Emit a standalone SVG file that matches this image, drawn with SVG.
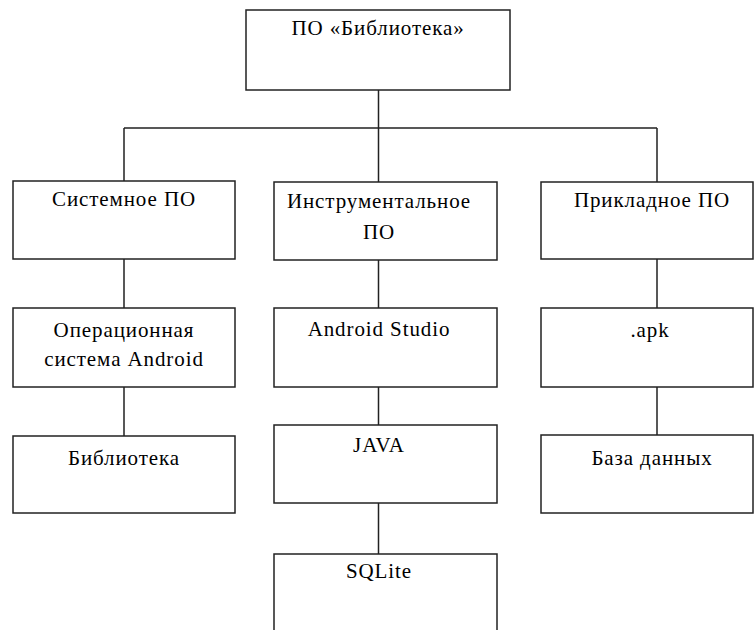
<svg xmlns="http://www.w3.org/2000/svg" width="754" height="630" viewBox="0 0 754 630">
<style>
.box{fill:#fff;stroke:#222;stroke-width:1.5}
.ln{stroke:#222;stroke-width:1.5;fill:none}
text{font-family:'Liberation Serif','Times New Roman',serif;font-size:21px;letter-spacing:0.9px;fill:#000;text-anchor:middle}
</style>
<rect width="754" height="630" fill="#fff"/>
<g id="connectors">
<path class="ln" d="M378.5 90V128M124 128H657M124 128V181M378.5 128V182M657 128V182"/>
<path class="ln" d="M124 259V308M124 387V436"/>
<path class="ln" d="M378.5 260V308M378.5 387V425M378.5 503V554"/>
<path class="ln" d="M657 259V308M657 387V435"/>
</g>
<g id="root"><rect class="box" x="246" y="10" width="264" height="80"/><text x="378" y="35">ПО «Библиотека»</text></g>
<g id="sys"><rect class="box" x="13" y="181" width="222" height="78"/><text x="124" y="206">Системное ПО</text></g>
<g id="instr"><rect class="box" x="274" y="182" width="223" height="78"/><text x="379" y="208">Инструментальное</text><text x="379" y="239">ПО</text></g>
<g id="app"><rect class="box" x="541" y="182" width="212" height="77"/><text x="652" y="207">Прикладное ПО</text></g>
<g id="os"><rect class="box" x="13" y="308" width="222" height="79"/><text x="124" y="337">Операционная</text><text x="124" y="366">система Android</text></g>
<g id="studio"><rect class="box" x="274" y="308" width="223" height="79"/><text x="379" y="336">Android Studio</text></g>
<g id="apk"><rect class="box" x="541" y="308" width="212" height="79"/><text x="650" y="337">.apk</text></g>
<g id="lib"><rect class="box" x="13" y="436" width="222" height="77"/><text x="124" y="465">Библиотека</text></g>
<g id="java"><rect class="box" x="274" y="425" width="223" height="78"/><text x="379" y="452">JAVA</text></g>
<g id="db"><rect class="box" x="541" y="435" width="212" height="78"/><text x="652" y="465">База данных</text></g>
<g id="sqlite"><rect class="box" x="274" y="554" width="223" height="90"/><text x="379" y="578">SQLite</text></g>
</svg>
